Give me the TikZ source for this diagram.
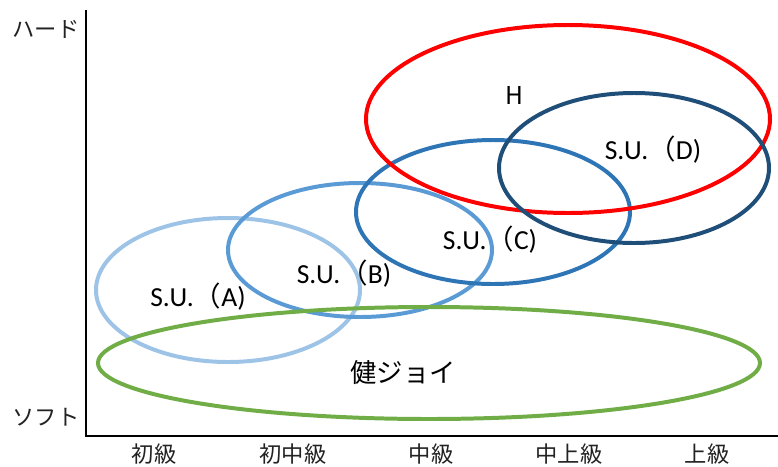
\documentclass[tikz,border=0pt]{standalone}
\usepackage{fontspec}
\setmainfont{Carlito}
\newfontfamily\cjk{Noto Sans CJK JP}
\definecolor{cA}{HTML}{9DC3E6}
\definecolor{cB}{HTML}{5B9BD5}
\definecolor{cC}{HTML}{2E75B6}
\definecolor{cD}{HTML}{1F4E79}
\definecolor{cG}{HTML}{70AD47}
\definecolor{cH}{HTML}{FF0000}
\definecolor{txt}{HTML}{222222}
\begin{document}
\begin{tikzpicture}[x=0.03cm,y=-0.03cm,
  ell/.style={line width=3.4pt},
  lab/.style={font=\fontsize{23.5}{26}\selectfont, text=black, inner sep=0pt},
  axlab/.style={font=\cjk\fontsize{19}{22}\selectfont, text=txt, inner sep=0pt}]
\useasboundingbox (0,0) rectangle (778,466);
% axes
\coordinate (top) at (86,10);
\coordinate (origin) at (86,436);
\coordinate (right) at (778,436);
\draw[line width=2pt] (top) -- (origin) -- (right);
% ellipses
\draw[ell, cA] (228,290) ellipse [x radius=132, y radius=72];
\draw[ell, cB] (360,250) ellipse [x radius=132, y radius=67];
\draw[ell, cC] (493,212) ellipse [x radius=137, y radius=72];
\draw[ell, cH] (568,119) ellipse [x radius=202, y radius=94];
\draw[ell, cD] (634,168) ellipse [x radius=135, y radius=75];
\draw[ell, cG] (429,363) ellipse [x radius=331, y radius=56];
% labels
\node[lab] (la) at (198,297) {S.U.{\cjk （}A)};
\node[lab] (lb) at (344,274) {S.U.{\cjk （}B)};
\node[lab] (lc) at (490,240) {S.U.{\cjk （}C)};
\node[lab] (ld) at (653,150) {S.U.{\cjk （}D)};
\node[lab, font=\cjk\fontsize{21}{24}\selectfont] (lh) at (514,95) {H};
\node[lab, font=\cjk\fontsize{22.5}{26}\selectfont] (lg) at (403,373) {健ジョイ};
% axis labels
\node[axlab] (hard) at (46,29) {ハード};
\node[axlab] (soft) at (46,417) {ソフト};
\node[axlab] (t1) at (154,454) {初級};
\node[axlab] (t2) at (293,454) {初中級};
\node[axlab] (t3) at (431,454) {中級};
\node[axlab] (t4) at (569,454) {中上級};
\node[axlab] (t5) at (707,454) {上級};
\end{tikzpicture}
\end{document}
